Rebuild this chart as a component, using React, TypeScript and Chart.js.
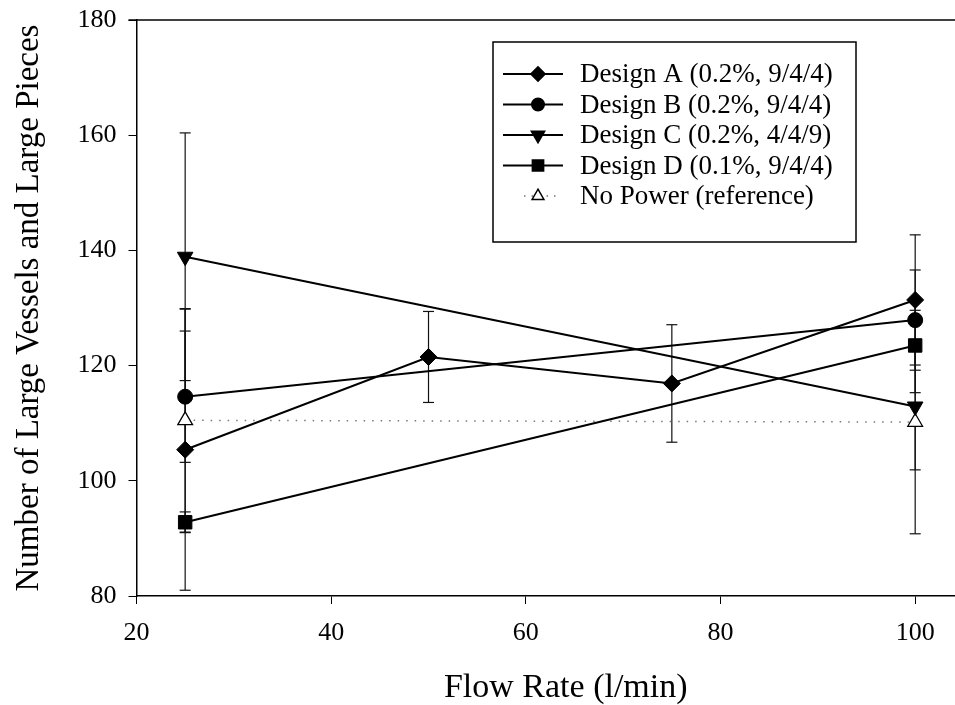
import React, { useEffect, useRef } from 'react';
import { Chart, registerables } from 'chart.js';
import { drawPoint } from 'chart.js/helpers';

Chart.register(...registerables);

// ---- data ----
const flowA = [25, 50, 75, 100];
const designA = [105.4, 121.5, 116.9, 131.4];
const errA = [24.4, 7.9, 10.2, 11.3];

const flowEnds = [25, 100];
const designB = [114.6, 127.9];
const errB = [11.4, 8.7];
const designC = [138.9, 112.9];
const errC = [21.5, 11.0];
const designD = [92.8, 123.5];
const errD = [1.8, 8.2];
const noPower = [110.5, 110.2];
const errNP = [19.4, 19.4];

const xTicks = [20, 40, 60, 80, 100];
const yTicks = [80, 100, 120, 140, 160, 180];

const seriesLabels = [
  'Design A (0.2%, 9/4/4)',
  'Design B (0.2%, 9/4/4)',
  'Design C (0.2%, 4/4/9)',
  'Design D (0.1%, 9/4/4)',
  'No Power (reference)',
];
const xTitle = 'Flow Rate (l/min)';
const yTitle = 'Number of Large Vessels and Large Pieces';

const FONT = '"Liberation Serif", "Times New Roman", serif';

const toPts = (xs: number[], ys: number[]) => xs.map((x, i) => ({ x, y: ys[i] }));

const markerDefs = [
  { pointStyle: 'rectRot', radius: 8.5, rotation: 0, fill: '#000' },
  { pointStyle: 'circle', radius: 7.5, rotation: 0, fill: '#000' },
  { pointStyle: 'triangle', radius: 9, rotation: 180, fill: '#000' },
  { pointStyle: 'rect', radius: 9.5, rotation: 0, fill: '#000' },
  { pointStyle: 'triangle', radius: 8.5, rotation: 0, fill: '#fff' },
];

const errorBarPlugin = {
  id: 'errorBars',
  beforeDatasetsDraw(chart: any) {
    const ctx = chart.ctx;
    const yScale = chart.scales.y;
    const area = chart.chartArea;
    ctx.save();
    ctx.strokeStyle = '#111';
    ctx.lineWidth = 1.2;
    chart.data.datasets.forEach((ds: any, i: number) => {
      const meta = chart.getDatasetMeta(i);
      const errs: number[] = ds.errors || [];
      meta.data.forEach((el: any, j: number) => {
        const v = ds.data[j].y;
        const e = errs[j];
        if (e == null) return;
        const x = el.x;
        const yt = yScale.getPixelForValue(v + e);
        const yb = yScale.getPixelForValue(v - e);
        const top = Math.max(yt, area.top);
        const bot = Math.min(yb, area.bottom);
        ctx.beginPath();
        ctx.moveTo(x, top);
        ctx.lineTo(x, bot);
        ctx.stroke();
        const cap = 5.5;
        [yt, yb].forEach((yy) => {
          if (yy >= area.top && yy <= area.bottom) {
            ctx.beginPath();
            ctx.moveTo(x - cap, yy);
            ctx.lineTo(x + cap, yy);
            ctx.stroke();
          }
        });
      });
    });
    ctx.restore();
  },
};

const frameLegendPlugin = {
  id: 'frameLegend',
  afterDraw(chart: any) {
    const ctx = chart.ctx;
    const area = chart.chartArea;
    ctx.save();
    // top border of plot area
    ctx.strokeStyle = '#000';
    ctx.lineWidth = 1.5;
    ctx.beginPath();
    ctx.moveTo(area.left - 8, area.top);
    ctx.lineTo(area.right, area.top);
    ctx.stroke();

    // legend box
    const bx = 493, by = 42, bw = 363, bh = 200;
    ctx.fillStyle = '#fff';
    ctx.fillRect(bx, by, bw, bh);
    ctx.lineWidth = 1.5;
    ctx.strokeRect(bx, by, bw, bh);

    const rowY0 = 74;
    const rowStep = 30.5;
    ctx.font = `27px ${FONT}`;
    ctx.textBaseline = 'middle';
    ctx.textAlign = 'left';
    seriesLabels.forEach((lab, i) => {
      const y = rowY0 + i * rowStep;
      const m = markerDefs[i];
      if (i < 4) {
        ctx.strokeStyle = '#000';
        ctx.lineWidth = 2;
        ctx.setLineDash([]);
        ctx.beginPath();
        ctx.moveTo(503, y);
        ctx.lineTo(563, y);
        ctx.stroke();
      } else {
        ctx.strokeStyle = '#777';
        ctx.lineWidth = 1.5;
        ctx.setLineDash([1.5, 6]);
        ctx.beginPath();
        ctx.moveTo(524, y);
        ctx.lineTo(556, y);
        ctx.stroke();
        ctx.setLineDash([]);
      }
      ctx.fillStyle = m.fill;
      ctx.strokeStyle = '#000';
      drawPoint(ctx, {
        pointStyle: m.pointStyle,
        rotation: m.rotation,
        radius: m.radius * 0.8,
        borderWidth: 1,
      } as any, 538, y);
      ctx.fillStyle = '#000';
      ctx.fillText(lab, 580, y + 1);
    });
    ctx.restore();
  },
};

export default function App() {
  const ref = useRef<HTMLCanvasElement | null>(null);

  useEffect(() => {
    document.body.style.margin = '0';
    document.body.style.overflow = 'hidden';
    const canvas = ref.current!;
    const baseDs = (i: number) => ({
      borderColor: '#000',
      borderWidth: 2,
      pointStyle: markerDefs[i].pointStyle,
      pointRadius: markerDefs[i].radius,
      pointRotation: markerDefs[i].rotation,
      pointBackgroundColor: markerDefs[i].fill,
      pointBorderColor: '#000',
      pointBorderWidth: 1,
      fill: false,
      tension: 0,
    });
    const chart = new Chart(canvas, {
      type: 'line',
      data: {
        datasets: [
          { ...baseDs(0), label: seriesLabels[0], data: toPts(flowA, designA), errors: errA },
          { ...baseDs(1), label: seriesLabels[1], data: toPts(flowEnds, designB), errors: errB },
          { ...baseDs(2), label: seriesLabels[2], data: toPts(flowEnds, designC), errors: errC },
          { ...baseDs(3), label: seriesLabels[3], data: toPts(flowEnds, designD), errors: errD },
          {
            ...baseDs(4),
            label: seriesLabels[4],
            data: toPts(flowEnds, noPower),
            errors: errNP,
            borderColor: '#777',
            borderWidth: 1.5,
            borderDash: [1.5, 7],
            pointBorderWidth: 1.3,
          },
        ] as any,
      },
      options: {
        animation: false,
        responsive: false,
        devicePixelRatio: 1,
        layout: { autoPadding: false, padding: { left: 0, right: 0, top: 20, bottom: 0 } },
        plugins: { legend: { display: false }, tooltip: { enabled: false } },
        scales: {
          x: {
            type: 'linear',
            min: 20,
            max: 108.2,
            afterBuildTicks: (s: any) => {
              s.ticks = xTicks.map((v) => ({ value: v }));
            },
            afterFit: (s: any) => {
              s.height = 109;
              s.paddingLeft = 0;
              s.paddingRight = 0;
            },
            border: { display: true, color: '#000', width: 1.5 },
            grid: { drawOnChartArea: false, drawTicks: true, tickLength: 8, color: '#000', tickColor: '#000', lineWidth: 1 },
            ticks: { color: '#000', font: { family: FONT, size: 26 }, padding: 14, maxRotation: 0 },
            title: {
              display: true,
              text: xTitle,
              color: '#000',
              font: { family: FONT, size: 34, lineHeight: 1 },
              padding: { top: 0, bottom: 0 },
            },
          },
          y: {
            type: 'linear',
            min: 80,
            max: 180,
            afterBuildTicks: (s: any) => {
              s.ticks = yTicks.map((v) => ({ value: v }));
            },
            afterFit: (s: any) => {
              s.width = 136.5;
              s.paddingTop = 0;
              s.paddingBottom = 0;
            },
            border: { display: true, color: '#000', width: 1.5 },
            grid: { drawOnChartArea: false, drawTicks: true, tickLength: 8, color: '#000', tickColor: '#000', lineWidth: 1 },
            ticks: { color: '#000', font: { family: FONT, size: 26 }, padding: 12 },
            title: {
              display: true,
              text: yTitle,
              color: '#000',
              font: { family: FONT, size: 33, lineHeight: 1 },
              padding: { top: 13, bottom: 0 },
            },
          },
        },
      } as any,
      plugins: [errorBarPlugin, frameLegendPlugin],
    });
    return () => chart.destroy();
  }, []);

  return (
    <div style={{ width: 955, height: 705, overflow: 'hidden', background: '#fff' }}>
      <canvas ref={ref} width={995} height={705} style={{ display: 'block', width: 995, height: 705 }} />
    </div>
  );
}
